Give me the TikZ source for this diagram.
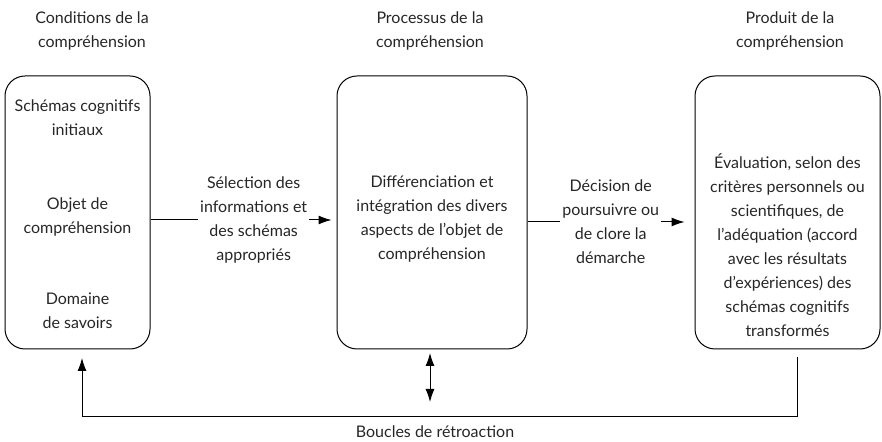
\documentclass[tikz,border=0pt]{standalone}
\usepackage{fontspec}
\setmainfont{Lato}
\usetikzlibrary{arrows.meta}
\tikzset{
  txt/.style={align=center, text=black!85, inner sep=2pt,
    font=\fontsize{16}{24}\selectfont},
  stage/.style={draw, line width=1pt, rounded corners=20pt,
    minimum height=273pt},
  lab/.style={txt, fill=white},
  arr/.style={line width=1pt, -{Latex[length=13pt,width=9pt]}},
  dblarr/.style={line width=1pt, {Latex[length=13pt,width=9pt]}-{Latex[length=13pt,width=9pt]}}
}
\begin{document}
\begin{tikzpicture}[x=1pt,y=1pt]
  \useasboundingbox (0,0) rectangle (882,441);
  % stages
  \node[stage, minimum width=145pt] (cond) at (77.5,228.5) {};
  \node[stage, minimum width=190pt] (proc) at (432,228.5) {};
  \node[stage, minimum width=185pt] (prod) at (787.5,228.5) {};
  % headings
  \node[txt] (hcond) at (92,410) {Conditions de la\\compréhension};
  \node[txt] (hproc) at (430,410) {Processus de la\\compréhension};
  \node[txt] (hprod) at (790,410) {Produit de la\\compréhension};
  % contents
  \node[txt] (schemas) at (77.5,323) {Schémas cognitifs\\initiaux};
  \node[txt] (objet) at (77.5,224) {Objet de\\compréhension};
  \node[txt] (domaine) at (77.5,130) {Domaine\\de savoirs};
  \node[txt] (diff) at (432,222) {Différenciation et\\intégration des divers\\aspects de l’objet de\\compréhension};
  \node[txt] (eval) at (787.5,196) {Évaluation, selon des\\critères personnels ou\\scientifiques, de\\l’adéquation (accord\\avec les résultats\\d’expériences) des\\schémas cognitifs\\transformés};
  % connectors
  \draw[arr] (cond.east |- 0,221) -- node[lab, pos=0.57] (sel) {Sélection des\\informations et\\des schémas\\appropriés} ([xshift=-5pt]proc.west |- 0,221);
  \draw[arr] (proc.east |- 0,219) -- node[lab, pos=0.53] (dec) {Décision de\\poursuivre ou\\de clore la\\démarche} ([xshift=-10pt]prod.west |- 0,219);
  \coordinate (fbstart) at (797,84);
  \coordinate (fbend) at (82,83);
  \draw[arr] (fbstart) |- (82,24) -- (fbend);
  \coordinate (up) at (430,88);
  \coordinate (down) at (430,39);
  \draw[dblarr] (up) -- (down);
  \node[txt] (boucles) at (435,9) {Boucles de rétroaction};
\end{tikzpicture}
\end{document}
